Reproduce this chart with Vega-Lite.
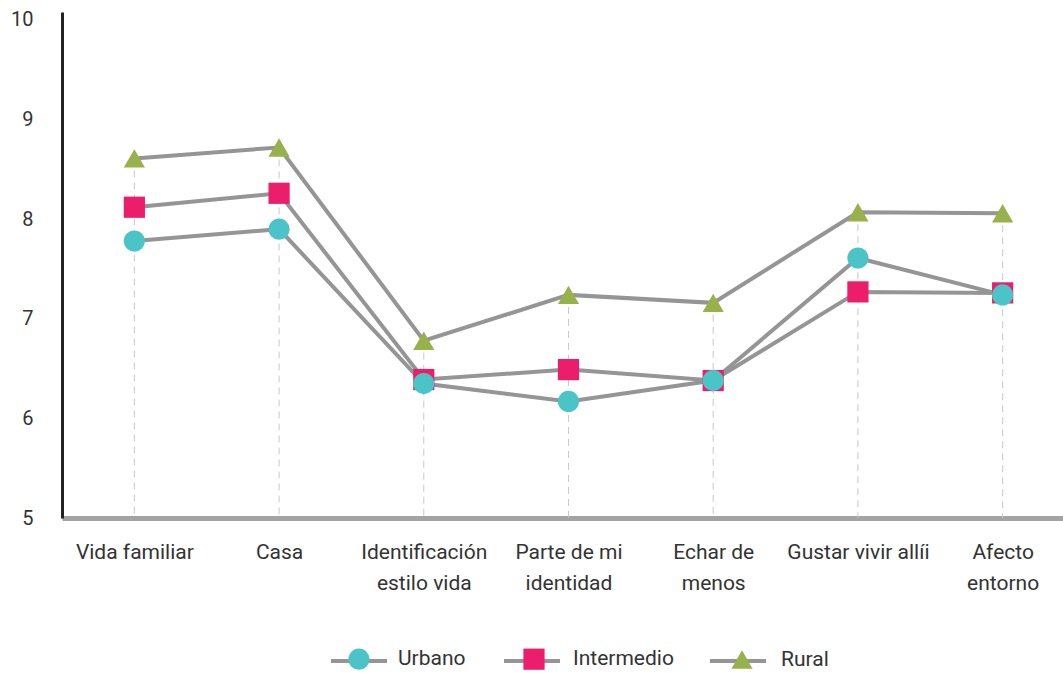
{
  "$schema": "https://vega.github.io/schema/vega-lite/v6.json",
  "width": 1013,
  "height": 506,
  "autosize": {"type": "none"},
  "padding": {"left": 62, "top": 12, "right": 0, "bottom": 155},
  "background": "white",
  "config": {
    "view": {"stroke": null},
    "font": "Roboto",
    "axis": {"labelFont": "Roboto", "labelColor": "#333333", "grid": false, "ticks": false}
  },
  "data": {
    "values": [
      {"cat": "Vida familiar", "series": "Rural", "value": 8.61},
      {"cat": "Casa", "series": "Rural", "value": 8.72},
      {"cat": "Identificación estilo vida", "series": "Rural", "value": 6.78},
      {"cat": "Parte de mi identidad", "series": "Rural", "value": 7.24},
      {"cat": "Echar de menos", "series": "Rural", "value": 7.16},
      {"cat": "Gustar vivir allíi", "series": "Rural", "value": 8.07},
      {"cat": "Afecto entorno", "series": "Rural", "value": 8.06},
      {"cat": "Vida familiar", "series": "Intermedio", "value": 8.12},
      {"cat": "Casa", "series": "Intermedio", "value": 8.26},
      {"cat": "Identificación estilo vida", "series": "Intermedio", "value": 6.39},
      {"cat": "Parte de mi identidad", "series": "Intermedio", "value": 6.49},
      {"cat": "Echar de menos", "series": "Intermedio", "value": 6.38},
      {"cat": "Gustar vivir allíi", "series": "Intermedio", "value": 7.27},
      {"cat": "Afecto entorno", "series": "Intermedio", "value": 7.26},
      {"cat": "Vida familiar", "series": "Urbano", "value": 7.78},
      {"cat": "Casa", "series": "Urbano", "value": 7.9},
      {"cat": "Identificación estilo vida", "series": "Urbano", "value": 6.35},
      {"cat": "Parte de mi identidad", "series": "Urbano", "value": 6.17},
      {"cat": "Echar de menos", "series": "Urbano", "value": 6.38},
      {"cat": "Gustar vivir allíi", "series": "Urbano", "value": 7.61},
      {"cat": "Afecto entorno", "series": "Urbano", "value": 7.24}
    ]
  },
  "encoding": {
    "x": {
      "field": "cat",
      "type": "nominal",
      "sort": null,
      "scale": {"type": "point", "padding": 0.5},
      "axis": {
        "title": null,
        "labelAngle": 0,
        "labelFontSize": 21,
        "labelPadding": 40,
        "labelLineHeight": 31,
        "labelBaseline": "alphabetic",
        "domainColor": "#a3a3a3",
        "domainWidth": 5,
        "labelExpr": "datum.label == 'Identificación estilo vida' ? ['Identificación', 'estilo vida'] : datum.label == 'Parte de mi identidad' ? ['Parte de mi', 'identidad'] : datum.label == 'Echar de menos' ? ['Echar de', 'menos'] : datum.label == 'Afecto entorno' ? ['Afecto', 'entorno'] : datum.label"
      }
    }
  },
  "layer": [
    {
      "mark": {"type": "rule", "color": "#c8c8c8", "strokeWidth": 1, "strokeDash": [7, 5]},
      "encoding": {
        "y": {"aggregate": "max", "field": "value", "type": "quantitative"},
        "y2": {"datum": 5}
      }
    },
    {
      "mark": {"type": "line", "strokeWidth": 4},
      "encoding": {
        "y": {
          "field": "value",
          "type": "quantitative",
          "scale": {"domain": [5, 10.08], "nice": false, "zero": false},
          "axis": {
            "title": null,
            "values": [5, 6, 7, 8, 9, 10],
            "format": "d",
            "labelFontSize": 20,
            "labelPadding": 29,
            "domainColor": "#222222",
            "domainWidth": 3
          }
        },
        "stroke": {
          "field": "series",
          "type": "nominal",
          "sort": ["Urbano", "Intermedio", "Rural"],
          "scale": {"range": ["#959595", "#959595", "#959595"]},
          "legend": {
            "title": null,
            "orient": "none",
            "direction": "horizontal",
            "legendX": 267,
            "legendY": 619,
            "symbolType": "stroke",
            "symbolSize": 3136,
            "symbolStrokeWidth": 4,
            "labelFontSize": 21,
            "labelOffset": 11,
            "labelOpacity": 0,
            "columnPadding": 28,
            "padding": 0
          }
        }
      }
    },
    {
      "mark": {"type": "point", "filled": true, "opacity": 1},
      "encoding": {
        "y": {"field": "value", "type": "quantitative"},
        "fill": {
          "field": "series",
          "type": "nominal",
          "scale": {"domain": ["Urbano", "Intermedio", "Rural"], "range": ["#4bc4c8", "#ec1e6b", "#97b14b"]},
          "legend": {
            "title": null,
            "orient": "none",
            "direction": "horizontal",
            "legendX": 286,
            "legendY": 636,
            "symbolSize": 450,
            "symbolOpacity": 1,
            "symbolStrokeWidth": 0,
            "labelFontSize": 21,
            "labelColor": "#333333",
            "labelOffset": 28,
            "columnPadding": 57,
            "padding": 0
          }
        },
        "shape": {
          "field": "series",
          "type": "nominal",
          "scale": {"domain": ["Urbano", "Intermedio", "Rural"], "range": ["circle", "square", "triangle-up"]}
        },
        "size": {"value": 450}
      }
    }
  ]
}
